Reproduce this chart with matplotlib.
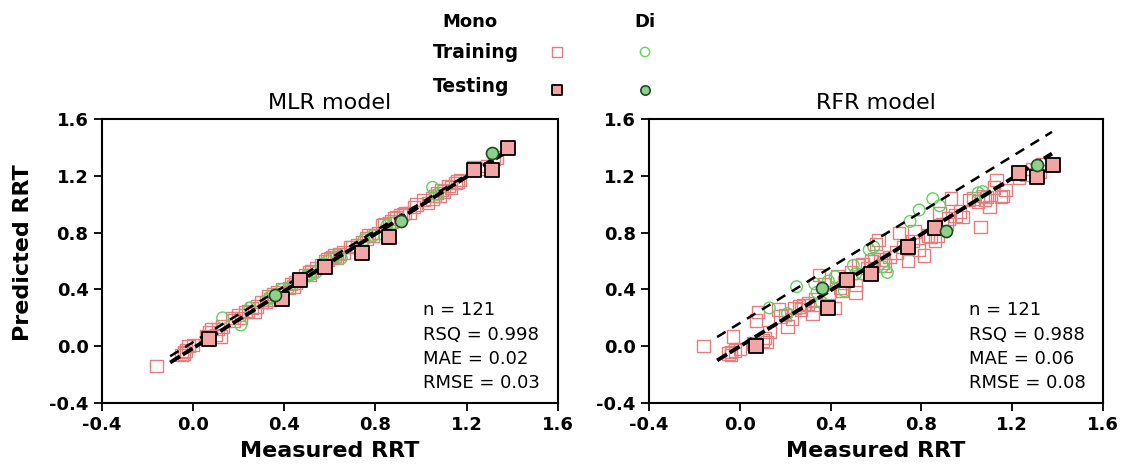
import matplotlib
matplotlib.use('Agg')
import matplotlib.pyplot as plt
import numpy as np

# measured RRT, RFR prediction, MLR prediction (mono-substituted, training)
mono_train_x = [-0.16, -0.05, -0.04, -0.03, -0.04, -0.02, 0.06, 0.07, 0.08, 0.10,
                0.11, 0.12, 0.13, 0.17, 0.18, 0.21, 0.23, 0.24, 0.26, 0.28,
                0.30, 0.32, 0.33, 0.34, 0.35, 0.37, 0.39, 0.42, 0.43, 0.45,
                0.46, 0.49, 0.51, 0.51, 0.52, 0.54, 0.56, 0.59, 0.60, 0.61,
                0.62, 0.63, 0.64, 0.66, 0.69, 0.70, 0.72, 0.74, 0.76, 0.77,
                0.79, 0.81, 0.83, 0.84, 0.86, 0.87, 0.88, 0.89, 0.91, 0.92,
                0.93, 0.95, 0.98, 1.01, 1.03, 1.05, 1.06, 1.07, 1.08, 1.09,
                1.10, 1.12, 1.13, 1.15, 1.16, 1.17, 1.23, 1.26, 1.29, 1.32,
                1.33, 0.00, 0.20, 0.58, 0.97, 0.44, 0.27]
mono_train_rfr = [0.00, -0.05, -0.04, 0.07, -0.06, -0.03, 0.02, 0.18, 0.24, 0.04,
                  0.06, 0.03, 0.10, 0.26, 0.21, 0.14, 0.19, 0.27, 0.28, 0.29,
                  0.30, 0.23, 0.33, 0.29, 0.50, 0.44, 0.38, 0.27, 0.49, 0.39,
                  0.45, 0.52, 0.38, 0.43, 0.57, 0.58, 0.55, 0.61, 0.72, 0.75,
                  0.61, 0.59, 0.57, 0.63, 0.66, 0.80, 0.70, 0.60, 0.74, 0.81,
                  0.68, 0.64, 0.78, 0.77, 0.74, 0.78, 0.94, 0.86, 0.86, 0.90,
                  1.04, 0.92, 0.91, 1.03, 1.04, 1.02, 0.84, 1.06, 1.03, 1.05,
                  0.98, 1.12, 1.17, 1.05, 1.06, 1.10, 1.19, 1.21, 1.25, 1.23,
                  1.28, -0.02, 0.22, 0.60, 0.95, 0.41, 0.26]
mono_train_mlr = [-0.14, -0.06, -0.05, -0.03, -0.04, 0.00, 0.07, 0.10, 0.12, 0.08,
                  0.12, 0.07, 0.14, 0.20, 0.18, 0.20, 0.24, 0.25, 0.27, 0.28,
                  0.31, 0.31, 0.35, 0.33, 0.37, 0.38, 0.40, 0.41, 0.44, 0.45,
                  0.47, 0.50, 0.50, 0.52, 0.53, 0.55, 0.57, 0.61, 0.62, 0.63,
                  0.64, 0.62, 0.65, 0.66, 0.70, 0.70, 0.71, 0.73, 0.76, 0.78,
                  0.78, 0.80, 0.85, 0.86, 0.87, 0.88, 0.90, 0.91, 0.92, 0.93,
                  0.94, 0.94, 1.00, 1.03, 1.01, 1.04, 1.06, 1.08, 1.06, 1.10,
                  1.09, 1.13, 1.12, 1.15, 1.16, 1.17, 1.26, 1.25, 1.27, 1.32,
                  1.33, 0.01, 0.22, 0.60, 0.98, 0.42, 0.24]

# di-substituted, training
di_train_x = [0.13, 0.21, 0.25, 0.33, 0.34, 0.36, 0.39, 0.42, 0.46, 0.50, 0.51,
              0.54, 0.57, 0.59, 0.63, 0.65, 0.75, 0.79, 0.85, 0.88, 1.05, 1.07]
di_train_rfr = [0.27, 0.23, 0.42, 0.44, 0.38, 0.31, 0.46, 0.49, 0.39, 0.57, 0.51,
                0.51, 0.68, 0.70, 0.56, 0.52, 0.88, 0.96, 1.04, 0.99, 1.08, 1.09]
di_train_mlr = [0.20, 0.15, 0.27, 0.33, 0.35, 0.36, 0.40, 0.41, 0.47, 0.50, 0.50,
                0.52, 0.58, 0.60, 0.64, 0.62, 0.75, 0.78, 0.85, 0.87, 1.12, 1.07]

# testing sets
mono_test_x = [0.07, 0.39, 0.47, 0.58, 0.74, 0.86, 1.23, 1.31, 1.38]
mono_test_rfr = [0.00, 0.27, 0.47, 0.51, 0.70, 0.83, 1.22, 1.19, 1.28]
mono_test_mlr = [0.05, 0.33, 0.47, 0.56, 0.66, 0.77, 1.24, 1.24, 1.40]
di_test_x = [0.36, 0.91, 1.31]
di_test_rfr = [0.41, 0.81, 1.28]
di_test_mlr = [0.36, 0.88, 1.36]

# fitted lines: (intercept, slope) for the thick and the thin dashed line
mlr_lines = [(-0.014, 1.007), (0.028, 0.983)]
rfr_lines = [(-0.001, 0.988), (0.163, 0.980)]
line_range = [-0.10, 1.375]

stats = {
    'MLR': ['n = 121', 'RSQ = 0.998', 'MAE = 0.02', 'RMSE = 0.03'],
    'RFR': ['n = 121', 'RSQ = 0.988', 'MAE = 0.06', 'RMSE = 0.08'],
}

mono_edge = '#e57f7f'
mono_fill = '#f2a5a5'
di_edge = '#5fd35f'
di_fill = '#8fd08f'

fig = plt.figure(figsize=(11.25, 4.73), dpi=100)
ax1 = fig.add_axes([0.0904, 0.148, 0.4056, 0.600])
ax2 = fig.add_axes([0.5769, 0.148, 0.4036, 0.600])

panels = [
    (ax1, 'MLR model', mono_train_mlr, di_train_mlr, mono_test_mlr, di_test_mlr, mlr_lines, stats['MLR']),
    (ax2, 'RFR model', mono_train_rfr, di_train_rfr, mono_test_rfr, di_test_rfr, rfr_lines, stats['RFR']),
]

for ax, title, m_tr, d_tr, m_te, d_te, lines, st in panels:
    ax.scatter(mono_train_x, m_tr, marker='s', s=80, facecolors='none',
               edgecolors=mono_edge, linewidths=1.0, zorder=2)
    ax.scatter(di_train_x, d_tr, marker='o', s=70, facecolors='none',
               edgecolors=di_edge, linewidths=1.0, zorder=2)
    xs = np.array(line_range)
    b, m = lines[0]
    ax.plot(xs, b + m * xs, color='black', lw=2.8, ls=(0, (3, 0.8)), zorder=3)
    b, m = lines[1]
    ax.plot(xs, b + m * xs, color='black', lw=1.8, ls=(0, (4, 3)), zorder=3)
    ax.scatter(mono_test_x, m_te, marker='s', s=95, facecolors=mono_fill,
               edgecolors='black', linewidths=1.3, zorder=4)
    ax.scatter(di_test_x, d_te, marker='o', s=75, facecolors=di_fill,
               edgecolors='#1e4d1e', linewidths=1.2, zorder=4)

    ax.set_xlim(-0.4, 1.6)
    ax.set_ylim(-0.4, 1.6)
    ticks = [-0.4, 0.0, 0.4, 0.8, 1.2, 1.6]
    ax.set_xticks(ticks)
    ax.set_yticks(ticks)
    ax.set_xticklabels([f'{t:.1f}' for t in ticks])
    ax.set_yticklabels([f'{t:.1f}' for t in ticks])
    ax.tick_params(direction='out', length=6, width=1.3, labelsize=13)
    for lab in ax.get_xticklabels() + ax.get_yticklabels():
        lab.set_fontweight('bold')
    for sp in ax.spines.values():
        sp.set_linewidth(1.5)
    ax.set_title(title, fontsize=16, pad=7)
    ax.set_xlabel('Measured RRT', fontsize=16, fontweight='bold', labelpad=5)
    for i, s in enumerate(st):
        ax.text(0.705, 0.327 - i * 0.086, s, transform=ax.transAxes,
                fontsize=13, va='center', ha='left')

ax1.set_ylabel('Predicted RRT', fontsize=16, fontweight='bold', labelpad=6)
ax1.yaxis.set_label_coords(-0.15, 0.53)

# legend grid at the top
fig.text(470 / 1125, 1 - 22 / 473, 'Mono', fontsize=13, fontweight='bold', ha='center', va='center')
fig.text(645 / 1125, 1 - 22 / 473, 'Di', fontsize=13, fontweight='bold', ha='center', va='center')
fig.text(433 / 1125, 1 - 52 / 473, 'Training', fontsize=13.5, fontweight='bold', ha='left', va='center')
fig.text(433 / 1125, 1 - 87 / 473, 'Testing', fontsize=13.5, fontweight='bold', ha='left', va='center')
lax = fig.add_axes([0, 0, 1, 1], facecolor='none')
lax.set_xlim(0, 1125)
lax.set_ylim(473, 0)
lax.axis('off')
lax.scatter([557], [52], marker='s', s=50, facecolors='none', edgecolors=mono_edge, linewidths=1.0)
lax.scatter([645], [52], marker='o', s=45, facecolors='none', edgecolors=di_edge, linewidths=1.0)
lax.scatter([557], [90], marker='s', s=50, facecolors=mono_fill, edgecolors='black', linewidths=1.3)
lax.scatter([645], [90], marker='o', s=45, facecolors=di_fill, edgecolors='#1e4d1e', linewidths=1.2)

fig.savefig('out.png', dpi=100, facecolor='white')
